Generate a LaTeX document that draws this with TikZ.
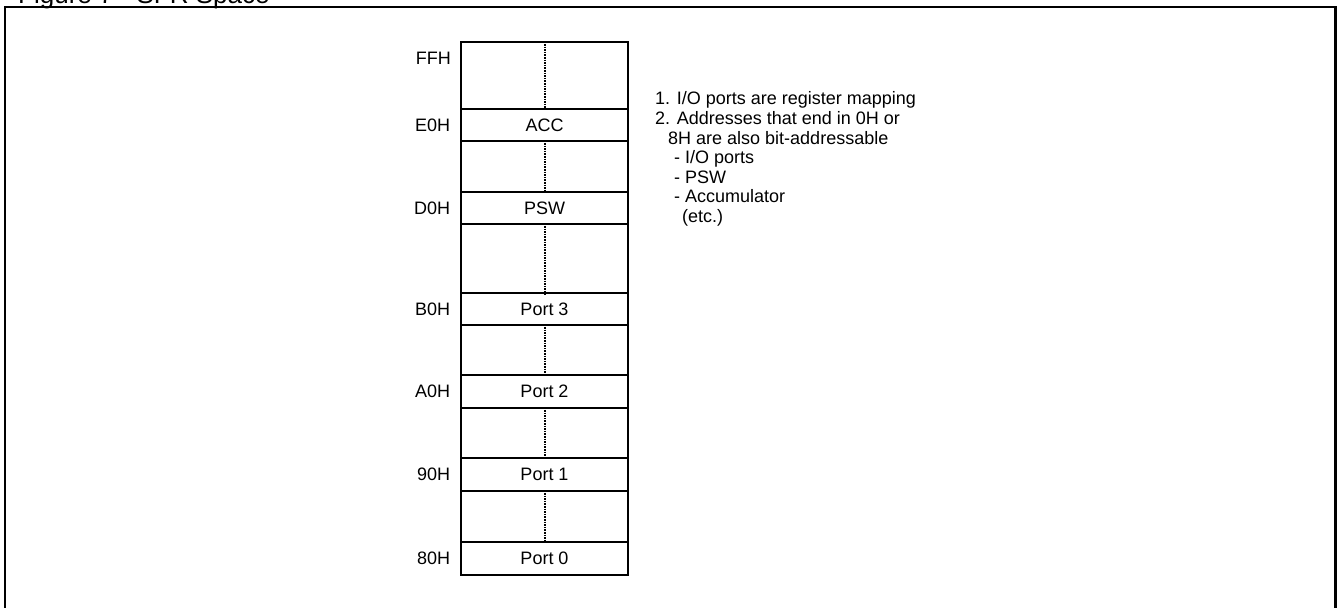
\documentclass[tikz,border=0pt]{standalone}
\usepackage{fontspec}
\setmainfont{Liberation Sans}
\usetikzlibrary{positioning}

\begin{document}
\begin{tikzpicture}[x=1pt,y=-1pt,
  reg/.style={draw,line width=1.3pt,minimum width=167pt,inner sep=0pt,font=\fontsize{18}{20}\selectfont},
  addr/.style={inner sep=0pt,font=\fontsize{18}{20}\selectfont},
  note/.style={inner sep=0pt,anchor=base west,font=\fontsize{18}{20}\selectfont},
  dots/.style={line width=2pt,dash pattern=on 1.6pt off 1pt}]
\useasboundingbox (0,0) rectangle (1337,607);
% caption and frame
\node[anchor=base west,inner sep=0pt,font=\fontsize{26}{28}\selectfont] (title) at (18,4) {Figure 7 - SFR Space};
\draw[line width=2.3pt] (5,625) |- (1335.5,7) -- (1335.5,625);
% empty blocks
\foreach \top/\bot [count=\k] in {42/109, 141/192, 224/293, 325/375, 408/458, 491/542} {
  \node[reg,minimum height={\bot-\top}] (g\k) at (544.5,{(\top+\bot)/2}) {};
  \draw[dots] (g\k.north) -- (g\k.south);
}
\node[addr,anchor=east] (ffh) at (451,58) {FFH};
% registers
\foreach \adr/\txt/\top/\bot [count=\k] in {E0H/ACC/109/141, D0H/PSW/192/224, B0H/Port 3/293/325, A0H/Port 2/375/408, 90H/Port 1/458/491, 80H/Port 0/542/575} {
  \node[reg,minimum height={\bot-\top}] (r\k) at (544.5,{(\top+\bot)/2}) {\txt};
  \node[addr,left=10pt of r\k] (a\k) {\adr};
}
% notes
\foreach \dx/\t [count=\k] in {0/{1. I/O ports are register mapping}, 0/{2. Addresses that end in 0H or}, 13/{8H are also bit-addressable}, 19/{- I/O ports}, 19/{- PSW}, 19/{- Accumulator}, 27/{(etc.)}} {
  \node[note] (n\k) at ({655+\dx},{105+19.5*(\k-1)}) {\t};
}
\end{tikzpicture}
\end{document}
